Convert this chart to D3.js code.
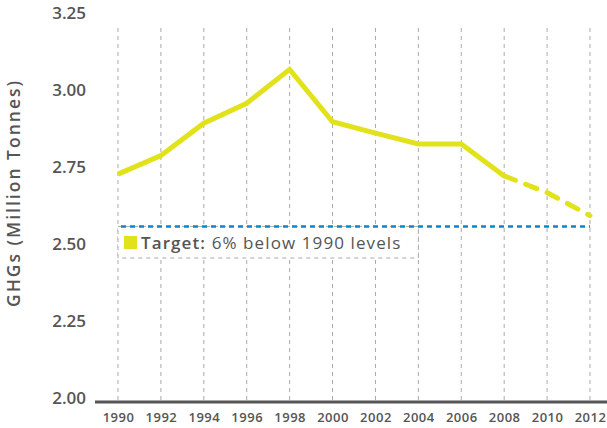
<!DOCTYPE html>
<html>
<head>
<meta charset="utf-8">
<script src="https://cdn.jsdelivr.net/npm/d3@7"></script>
<style>
  body { margin: 0; background: #fff; }
  svg { display: block; font-family: "Open Sans", sans-serif; }
</style>
</head>
<body>
<svg id="chart"></svg>
<script>
var width = 607,
    height = 428;

// data
var years = [1990, 1992, 1994, 1996, 1998, 2000, 2002, 2004, 2006, 2008];
var emissions = [2.74, 2.80, 2.905, 2.97, 3.08, 2.91, 2.873, 2.838, 2.838, 2.734];
var projYears = [2008, 2010, 2012];
var projValues = [2.734, 2.68, 2.605];
var target = 2.57;
var yTicks = [2.00, 2.25, 2.50, 2.75, 3.00, 3.25];
var xTicks = [1990, 1992, 1994, 1996, 1998, 2000, 2002, 2004, 2006, 2008, 2010, 2012];

var x = d3.scaleLinear().domain([1990, 2012]).range([118, 590]);
var y = d3.scaleLinear().domain([2, 3.25]).range([402, 17]);

var svg = d3.select("#chart").attr("width", width).attr("height", height);

// vertical dashed grid
svg.append("g").selectAll("line")
    .data(xTicks)
    .enter().append("line")
      .attr("x1", function(d) { return x(d); })
      .attr("x2", function(d) { return x(d); })
      .attr("y1", 28)
      .attr("y2", 402)
      .attr("stroke", "#aaa")
      .attr("stroke-width", 1)
      .attr("stroke-dasharray", "4,4");

// legend box
svg.append("rect")
    .attr("x", x(1990))
    .attr("y", y(target))
    .attr("width", x(2004) - x(1990))
    .attr("height", 258 - y(target))
    .attr("fill", "#fff")
    .attr("stroke", "#aaa")
    .attr("stroke-dasharray", "4,4");

// target line
svg.append("line")
    .attr("x1", x(1990) + 3)
    .attr("x2", x(2012))
    .attr("y1", y(target))
    .attr("y2", y(target))
    .attr("stroke", "#0a86cc")
    .attr("stroke-width", 2.5)
    .attr("stroke-dasharray", "5,4");

var legend = svg.append("g");
legend.append("rect")
    .attr("x", 124).attr("y", 236)
    .attr("width", 13).attr("height", 13)
    .attr("fill", "#e2e21a");
var lt = legend.append("text")
    .attr("x", 141).attr("y", 248.5)
    .attr("font-size", 17)
    .attr("letter-spacing", 1.1)
    .attr("fill", "#555");
lt.append("tspan").attr("font-weight", 600).text("Target:");
lt.append("tspan").text(" 6% below 1990 levels");

// series
var line = d3.line()
    .x(function(d) { return x(d[0]); })
    .y(function(d) { return y(d[1]); });

svg.append("path")
    .datum(d3.zip(years, emissions))
    .attr("d", line)
    .attr("fill", "none")
    .attr("stroke", "#e2e21a")
    .attr("stroke-width", 5)
    .attr("stroke-linejoin", "miter");

svg.append("path")
    .datum(d3.zip(projYears, projValues))
    .attr("d", line)
    .attr("fill", "none")
    .attr("stroke", "#e2e21a")
    .attr("stroke-width", 5)
    .attr("stroke-linecap", "round")
    .attr("stroke-dasharray", "12,11");

// x axis
var xAxis = svg.append("g")
    .attr("transform", "translate(0,402)")
    .call(d3.axisBottom(x).tickValues(xTicks).tickFormat(d3.format("d")).tickSize(0).tickPadding(11));
xAxis.select(".domain").remove();
xAxis.selectAll("text")
    .attr("font-size", 13)
    .attr("font-weight", 600)
    .attr("letter-spacing", 0.5)
    .attr("fill", "#555")
    .attr("font-family", "Open Sans, sans-serif");
svg.append("line")
    .attr("x1", 95).attr("x2", width)
    .attr("y1", 402).attr("y2", 402)
    .attr("stroke", "#555")
    .attr("stroke-width", 3);

// y axis
var yAxis = svg.append("g")
    .attr("transform", "translate(86,0)")
    .call(d3.axisLeft(y).tickValues(yTicks).tickFormat(d3.format(".2f")).tickSize(0).tickPadding(0));
yAxis.select(".domain").remove();
yAxis.selectAll("text")
    .attr("font-size", 17)
    .attr("font-weight", 600)
    .attr("dy", "0.1em")
    .attr("fill", "#555")
    .attr("font-family", "Open Sans, sans-serif");

svg.append("text")
    .attr("transform", "translate(20,193) rotate(-90)")
    .attr("text-anchor", "middle")
    .attr("font-size", 17.5)
    .attr("font-weight", 600)
    .attr("letter-spacing", 2)
    .attr("fill", "#555")
    .text("GHGs (Million Tonnes)");
</script>
</body>
</html>
